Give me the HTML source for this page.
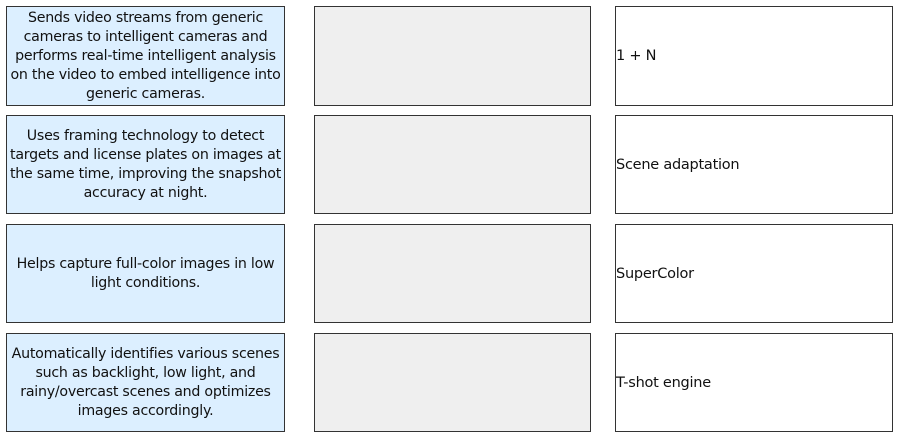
<!DOCTYPE html>
<html><head><style>
body{margin:0;width:898px;height:435px;background:#fff;position:relative;overflow:hidden;font-family:"DejaVu Sans",sans-serif;font-size:14.2px;letter-spacing:-0.25px;color:#111;}
.b{position:absolute;box-sizing:border-box;border:1px solid #333;}
.l{left:6px;width:279px;background:#dcefff;display:flex;align-items:center;justify-content:center;text-align:center;line-height:19px;white-space:nowrap;}
.m{left:314px;width:277px;background:#efefef;}
.r{left:615px;width:278px;background:#fff;display:flex;align-items:center;font-size:14.5px;}
</style></head><body>
<div class="b l" style="top:6px;height:100px"><div>Sends video streams from generic<br>cameras to intelligent cameras and<br>performs real-time intelligent analysis<br>on the video to embed intelligence into<br>generic cameras.</div></div>
<div class="b l" style="top:115px;height:99px"><div>Uses framing technology to detect<br>targets and license plates on images at<br>the same time, improving the snapshot<br>accuracy at night.</div></div>
<div class="b l" style="top:224px;height:99px"><div>Helps capture full-color images in low<br>light conditions.</div></div>
<div class="b l" style="top:333px;height:99px"><div>Automatically identifies various scenes<br>such as backlight, low light, and<br>rainy/overcast scenes and optimizes<br>images accordingly.</div></div>
<div class="b m" style="top:6px;height:100px"></div>
<div class="b m" style="top:115px;height:99px"></div>
<div class="b m" style="top:224px;height:99px"></div>
<div class="b m" style="top:333px;height:99px"></div>
<div class="b r" style="top:6px;height:100px">1 + N</div>
<div class="b r" style="top:115px;height:99px">Scene adaptation</div>
<div class="b r" style="top:224px;height:99px">SuperColor</div>
<div class="b r" style="top:333px;height:99px">T-shot engine</div>
</body></html>
